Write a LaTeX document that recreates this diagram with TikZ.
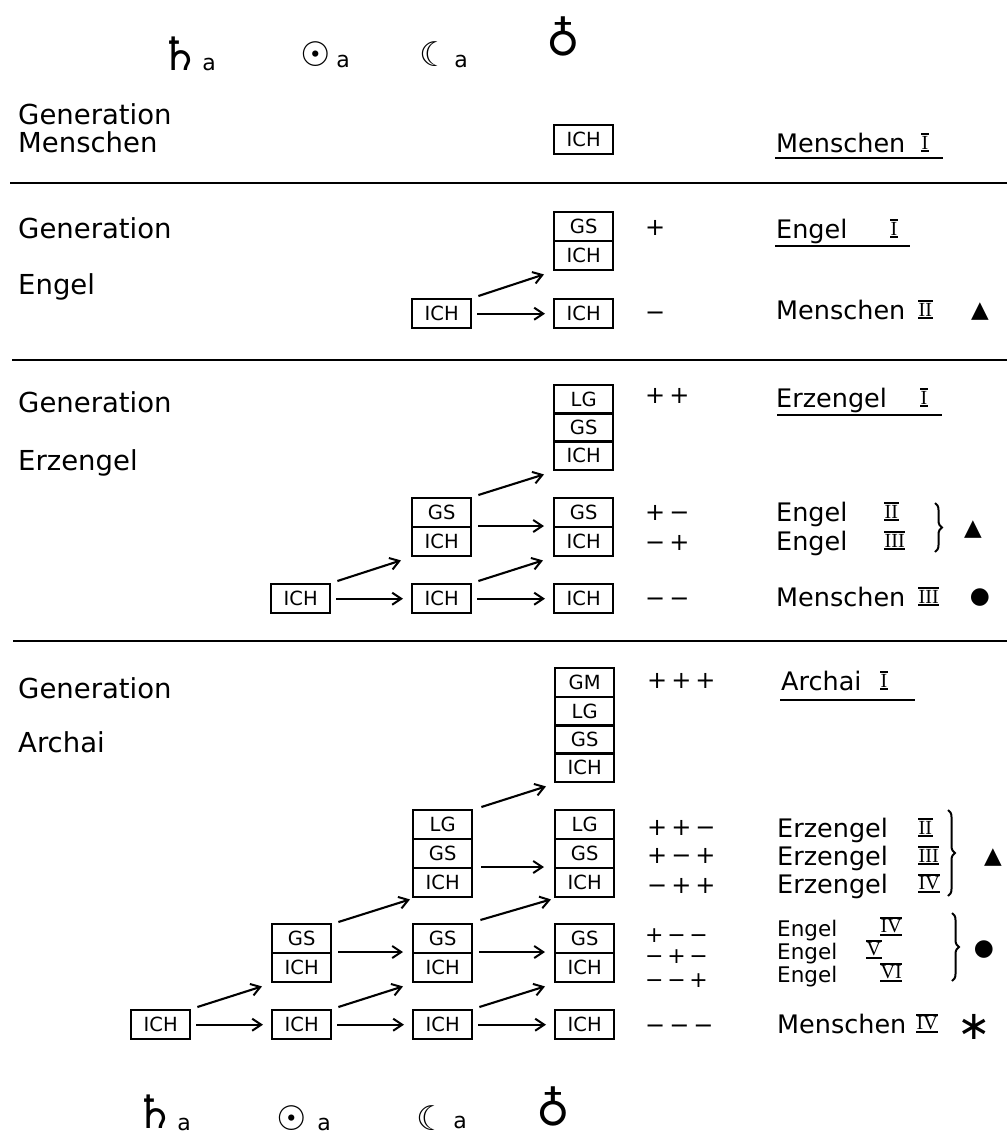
\documentclass[tikz,border=0pt]{standalone}
\usepackage{fontspec}
\setmainfont{DejaVu Sans}
\newfontfamily\numfont{Liberation Serif}
\usetikzlibrary{arrows.meta,decorations.pathreplacing}
\newcommand\rnum[1]{\setbox0=\hbox{\kern0.5pt\numfont\fontsize{20}{20}\selectfont #1\kern0.5pt}\vbox{\hrule height 1.8pt\kern1pt\box0\kern1.2pt\hrule height 1.8pt}}
\begin{document}
\begin{tikzpicture}[x=1pt,y=-1pt,
  cell/.style={draw,line width=2.4pt,minimum width=59pt,minimum height=29pt,inner sep=0pt,anchor=north west,font=\fontsize{19.5}{20}\selectfont},
  arr/.style={line width=2.1pt,-{Straight Barb[length=9pt,width=12pt,line width=2pt]}},
  sepline/.style={line width=2.2pt},
  uline/.style={line width=2.2pt},
  lab/.style={anchor=base west,inner sep=0pt,font=\fontsize{27.5}{28}\selectfont},
  rlab/.style={anchor=base west,inner sep=0pt,font=\fontsize{25.5}{26}\selectfont},
  slab/.style={anchor=base west,inner sep=0pt,font=\fontsize{21.5}{22}\selectfont},
  num/.style={anchor=base west,inner sep=0pt},
  sgn/.style={anchor=base west,inner sep=0pt,font=\fontsize{24}{26}\selectfont},
  ssgn/.style={anchor=base west,inner sep=0pt,font=\fontsize{22}{22}\selectfont},
  mk/.style={inner sep=0pt,font=\fontsize{23}{23}\selectfont},
  star/.style={inner sep=0pt,font=\fontsize{40}{40}\selectfont},
  sym/.style={inner sep=0pt,font=\fontsize{34}{34}\selectfont},
  satsym/.style={inner sep=0pt,font=\fontsize{46}{46}\selectfont},
  bigsym/.style={inner sep=0pt,font=\fontsize{46}{46}\selectfont},
  suba/.style={inner sep=0pt,font=\fontsize{22}{22}\selectfont},
  brc/.style={decorate,decoration={brace,amplitude=7pt},line width=2pt}
]
\useasboundingbox (0,0) rectangle (1007,1144);

% ---------- planet symbols top ----------
\node[satsym] (sat1) at (180,54) {♄};
\node[suba] (sat1a) at (209,64) {a};
\node[sym] (sun1) at (316,54) {☉};
\node[suba] (sun1a) at (343,61) {a};
\node[sym] (moon1) at (435,54) {☾};
\node[suba] (moon1a) at (461,61) {a};
\node[bigsym] (ear1) at (563,36) {♁};

% ---------- separators ----------
\draw[sepline] (10,183) -- (1007,183);
\draw[sepline] (12,360) -- (1007,360);
\draw[sepline] (13,641) -- (1007,641);

% ---------- left labels ----------
\node[lab] (g1) at (18,124) {Generation};
\node[lab] (g1b) at (18,152) {Menschen};
\node[lab] (g2) at (18,238) {Generation};
\node[lab] (g2b) at (18,294) {Engel};
\node[lab] (g3) at (18,412) {Generation};
\node[lab] (g3b) at (18,470) {Erzengel};
\node[lab] (g4) at (18,698) {Generation};
\node[lab] (g4b) at (18,752) {Archai};

% ---------- section 1 ----------
\node[cell] (m3i) at (553,124) {ICH};
\node[rlab] (r1) at (776,152) {Menschen};
\node[num] (r1n) at (921,152) {\rnum{I}};
\draw[uline] (775,158) -- (943,158);

% ---------- section 2 ----------
\node[cell] (e3g) at (553,211) {GS};
\node[cell] (e3i) at (553,240) {ICH};
\node[cell] (e2i) at (411,298) {ICH};
\node[cell] (e3j) at (553,298) {ICH};
\draw[arr] ([xshift=6pt,yshift=2pt]e2i.north east) -- ([xshift=-9pt,yshift=-3pt]e3i.south west);
\draw[arr] ([xshift=5pt]e2i.east) -- ([xshift=-8pt]e3j.west);
\node[sgn] (s21) at (645,235.5) {+};
\node[sgn] (s22) at (645,320.5) {−};
\node[rlab] (r21) at (776,238) {Engel};
\node[num] (r21n) at (890,238) {\rnum{I}};
\draw[uline] (775,246) -- (910,246);
\node[rlab] (r22) at (776,319) {Menschen};
\node[num] (r22n) at (918,319) {\rnum{II}};
\node[mk] (t22) at (980,312) {▲};

% ---------- section 3 ----------
\node[cell] (z3l) at (553,384) {LG};
\node[cell] (z3g) at (553,412) {GS};
\node[cell] (z3i) at (553,440) {ICH};
\node[cell] (y2g) at (411,497) {GS};
\node[cell] (y2i) at (411,526) {ICH};
\node[cell] (y3g) at (553,497) {GS};
\node[cell] (y3i) at (553,526) {ICH};
\node[cell] (x1i) at (270,583) {ICH};
\node[cell] (x2i) at (411,583) {ICH};
\node[cell] (x3i) at (553,583) {ICH};
\draw[arr] ([xshift=6pt,yshift=2pt]y2g.north east) -- ([xshift=-9pt,yshift=-3pt]z3i.south west);
\draw[arr] ([xshift=6pt]y2i.north east) -- ([xshift=-9pt]y3i.north west);
\draw[arr] ([xshift=6pt,yshift=2pt]x1i.north east) -- ([xshift=-10pt,yshift=-3pt]y2i.south west);
\draw[arr] ([xshift=6pt,yshift=2pt]x2i.north east) -- ([xshift=-10pt,yshift=-3pt]y3i.south west);
\draw[arr] ([xshift=5pt]x1i.east) -- ([xshift=-8pt]x2i.west);
\draw[arr] ([xshift=5pt]x2i.east) -- ([xshift=-8pt]x3i.west);
\node[sgn] (s31) at (645,403.5) {+\,+};
\node[sgn] (s32) at (645,520.5) {+\,−};
\node[sgn] (s33) at (645,550.5) {−\,+};
\node[sgn] (s34) at (645,606.5) {−\,−};
\node[rlab] (r31) at (776,407) {Erzengel};
\node[num] (r31n) at (920,407) {\rnum{I}};
\draw[uline] (777,415) -- (942,415);
\node[rlab] (r32) at (776,521) {Engel};
\node[num] (r32n) at (884,521) {\rnum{II}};
\node[rlab] (r33) at (776,550) {Engel};
\node[num] (r33n) at (884,550) {\rnum{III}};
\draw[brc] (935,503) -- (935,552);
\node[mk] (t32) at (973,530) {▲};
\node[rlab] (r34) at (776,606) {Menschen};
\node[num] (r34n) at (918,606) {\rnum{III}};
\node[mk] (c34) at (980,598) {●};

% ---------- section 4 ----------
\node[cell] (a3m) at (554,667) {GM};
\node[cell] (a3l) at (554,696) {LG};
\node[cell] (a3g) at (554,724) {GS};
\node[cell] (a3i) at (554,752) {ICH};
\node[cell] (b2l) at (412,809) {LG};
\node[cell] (b2g) at (412,838) {GS};
\node[cell] (b2i) at (412,867) {ICH};
\node[cell] (b3l) at (554,809) {LG};
\node[cell] (b3g) at (554,838) {GS};
\node[cell] (b3i) at (554,867) {ICH};
\node[cell] (c1g) at (271,923) {GS};
\node[cell] (c1i) at (271,952) {ICH};
\node[cell] (c2g) at (412,923) {GS};
\node[cell] (c2i) at (412,952) {ICH};
\node[cell] (c3g) at (554,923) {GS};
\node[cell] (c3i) at (554,952) {ICH};
\node[cell] (d0i) at (130,1009) {ICH};
\node[cell] (d1i) at (271,1009) {ICH};
\node[cell] (d2i) at (412,1009) {ICH};
\node[cell] (d3i) at (554,1009) {ICH};
% diagonals
\draw[arr] ([xshift=8pt,yshift=2pt]b2l.north east) -- ([xshift=-8pt,yshift=-3pt]a3i.south west);
\draw[arr] ([xshift=6pt,yshift=1pt]c1g.north east) -- ([xshift=-2pt,yshift=-1pt]b2i.south west);
\draw[arr] ([xshift=7pt,yshift=3pt]c2g.north east) -- ([xshift=-3pt,yshift=-1pt]b3i.south west);
\draw[arr] ([xshift=6pt,yshift=2pt]d0i.north east) -- ([xshift=-9pt,yshift=-3pt]c1i.south west);
\draw[arr] ([xshift=6pt,yshift=2pt]d1i.north east) -- ([xshift=-9pt,yshift=-3pt]c2i.south west);
\draw[arr] ([xshift=6pt,yshift=2pt]d2i.north east) -- ([xshift=-9pt,yshift=-3pt]c3i.south west);
% horizontals
\draw[arr] ([xshift=8pt]b2i.north east) -- ([xshift=-10pt]b3i.north west);
\draw[arr] ([xshift=6pt]c1i.north east) -- ([xshift=-9pt]c2i.north west);
\draw[arr] ([xshift=6pt]c2i.north east) -- ([xshift=-9pt]c3i.north west);
\draw[arr] ([xshift=5pt]d0i.east) -- ([xshift=-8pt]d1i.west);
\draw[arr] ([xshift=5pt]d1i.east) -- ([xshift=-8pt]d2i.west);
\draw[arr] ([xshift=5pt]d2i.east) -- ([xshift=-8pt]d3i.west);
% signs
\node[sgn] (s41) at (647,688.5) {+\,+\,+};
\node[sgn] (s42) at (647,835.5) {+\,+\,−};
\node[sgn] (s43) at (647,863.5) {+\,−\,+};
\node[sgn] (s44) at (647,893.5) {−\,+\,+};
\node[ssgn] (s45) at (645,942) {+\,−\,−};
\node[ssgn] (s46) at (645,963) {−\,+\,−};
\node[ssgn] (s47) at (645,987) {−\,−\,+};
\node[sgn] (s48) at (645,1033.5) {−\,−\,−};
% right labels
\node[rlab] (r41) at (781,690) {Archai};
\node[num] (r41n) at (880,690) {\rnum{I}};
\draw[uline] (780,700) -- (915,700);
\node[rlab] (r42) at (777,837) {Erzengel};
\node[num] (r42n) at (918,837) {\rnum{II}};
\node[rlab] (r43) at (777,865) {Erzengel};
\node[num] (r43n) at (918,865) {\rnum{III}};
\node[rlab] (r44) at (777,893) {Erzengel};
\node[num] (r44n) at (918,893) {\rnum{IV}};
\draw[brc] (948,810) -- (948,896);
\node[mk] (t42) at (993,858) {▲};
\node[slab] (r45) at (777,936) {Engel};
\node[num] (r45n) at (880,936) {\rnum{IV}};
\node[slab] (r46) at (777,959) {Engel};
\node[num] (r46n) at (866,959) {\rnum{V}};
\node[slab] (r47) at (777,982) {Engel};
\node[num] (r47n) at (880,982) {\rnum{VI}};
\draw[brc] (952,913) -- (952,981);
\node[mk] (c46) at (984,950) {●};
\node[rlab] (r48) at (777,1033) {Menschen};
\node[num] (r48n) at (916,1033) {\rnum{IV}};
\node[star] (k48) at (974,1027) {∗};

% ---------- planet symbols bottom ----------
\node[satsym] (sat2) at (155,1112) {♄};
\node[suba] (sat2a) at (184,1124) {a};
\node[sym] (sun2) at (292,1118) {☉};
\node[suba] (sun2a) at (324,1124) {a};
\node[sym] (moon2) at (432,1118) {☾};
\node[suba] (moon2a) at (460,1122) {a};
\node[bigsym] (ear2) at (553,1106) {♁};
\end{tikzpicture}
\end{document}
